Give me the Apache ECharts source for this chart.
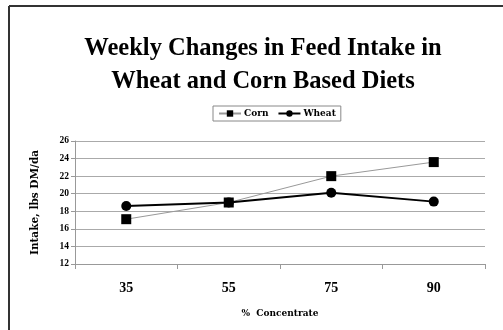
<!DOCTYPE html>
<html>
<head>
<meta charset="utf-8">
<script src="https://cdn.jsdelivr.net/npm/echarts@6/dist/echarts.min.js"></script>
<style>
  html, body { margin: 0; padding: 0; background: #fff; }
  #chart { width: 503px; height: 330px; }
</style>
</head>
<body>
<div id="chart"></div>
<script>
// Feed intake (lbs DM/day) by percent concentrate in the diet
const categories = ['35', '55', '75', '90'];
const cornIntake = [17.1, 19.0, 22.0, 23.6];
const wheatIntake = [18.6, 19.0, 20.1, 19.1];
const yTicks = { min: 12, max: 26, step: 2 };

const serif = '"Liberation Serif", "Times New Roman", serif';
const wideSerif = '"DejaVu Serif", serif';

const chart = echarts.init(document.getElementById('chart'), null, { renderer: 'canvas' });

chart.setOption({
  backgroundColor: '#ffffff',
  animation: false,
  graphic: [
    // outer frame (top and left edges)
    { type: 'line', shape: { x1: 9, y1: 6, x2: 503, y2: 6 }, style: { stroke: '#333', lineWidth: 2 } },
    { type: 'line', shape: { x1: 9, y1: 6, x2: 9, y2: 330 }, style: { stroke: '#333', lineWidth: 2 } }
  ],
  title: {
    text: 'Weekly Changes in Feed Intake in\nWheat and Corn Based Diets',
    left: 258,
    textAlign: 'center',
    top: 27,
    textStyle: { fontFamily: serif, fontSize: 24.5, fontWeight: 'bold', color: '#000', lineHeight: 33 }
  },
  legend: {
    top: 106,
    left: 213,
    data: ['Corn', 'Wheat'],
    itemWidth: 22,
    itemHeight: 8,
    itemGap: 9,
    padding: [3, 5],
    borderColor: '#888',
    borderWidth: 1,
    borderRadius: 0,
    textStyle: { fontFamily: wideSerif, fontSize: 9, fontWeight: 'bold', color: '#000', padding: [0, 0, 0, -2] }
  },
  grid: { left: 75, right: 18, top: 141, bottom: 66 },
  xAxis: {
    type: 'category',
    data: categories,
    boundaryGap: true,
    name: '%  Concentrate',
    nameLocation: 'middle',
    nameGap: 45,
    nameTextStyle: { fontFamily: wideSerif, fontSize: 9, fontWeight: 'bold', color: '#000' },
    axisLine: { lineStyle: { color: '#999', width: 1 } },
    axisTick: { show: true, alignWithLabel: false, length: 5, lineStyle: { color: '#999' } },
    axisLabel: { fontFamily: serif, fontSize: 14, fontWeight: 'bold', color: '#000', margin: 17 },
    splitLine: { show: false }
  },
  yAxis: {
    type: 'value',
    min: yTicks.min,
    max: yTicks.max,
    interval: yTicks.step,
    name: 'Intake, lbs DM/da',
    nameLocation: 'middle',
    nameGap: 34,
    nameTextStyle: { fontFamily: wideSerif, fontSize: 10.5, fontWeight: 'bold', color: '#000' },
    axisLine: { show: true, lineStyle: { color: '#999', width: 1 } },
    axisTick: { show: true, inside: false, length: 4, lineStyle: { color: '#999' } },
    axisLabel: { fontFamily: serif, fontSize: 9.5, fontWeight: 'bold', color: '#000', margin: 6 },
    splitLine: { show: true, lineStyle: { color: '#aaa', width: 1 } }
  },
  series: [
    {
      name: 'Corn',
      type: 'line',
      data: cornIntake,
      symbol: 'rect',
      symbolSize: 10,
      itemStyle: { color: '#000' },
      lineStyle: { color: '#999', width: 1 },
      z: 3
    },
    {
      name: 'Wheat',
      type: 'line',
      data: wheatIntake,
      symbol: 'circle',
      symbolSize: 10,
      itemStyle: { color: '#000' },
      lineStyle: { color: '#000', width: 2 },
      z: 4
    }
  ]
});
</script>
</body>
</html>
